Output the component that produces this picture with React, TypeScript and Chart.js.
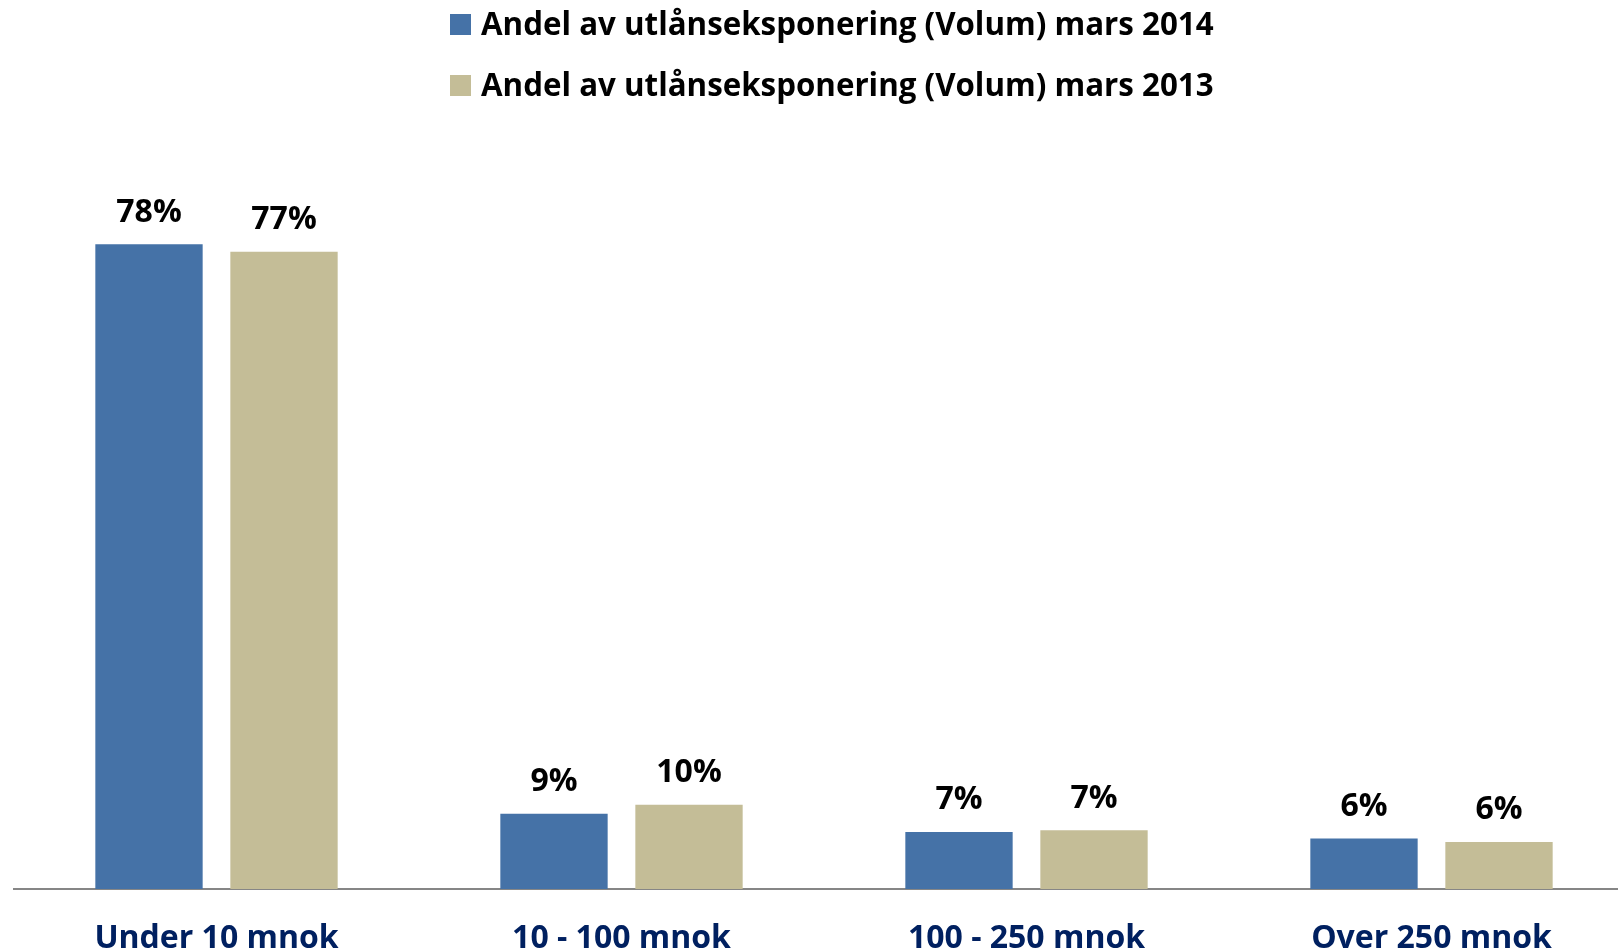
import React, { useEffect, useRef } from "react";
import { Chart, registerables } from "chart.js";

Chart.register(...registerables);

// ---- data ----
const categories = ["Under 10 mnok", "10 - 100 mnok", "100 - 250 mnok", "Over 250 mnok"];
const seriesNames = [
  "Andel av utlånseksponering (Volum) mars 2014",
  "Andel av utlånseksponering (Volum) mars 2013",
];
const values2014 = [78.0, 9.1, 6.9, 6.1];
const values2013 = [77.1, 10.2, 7.1, 5.7];
const yMin = 0;
const yMax = 100;

// ---- style ----
const COLORS = ["#4572A7", "#C4BD97"];
const FONT = "'Open Sans', Lato, sans-serif";
const CANVAS_W = 1640;
const CANVAS_H = 990;

const legendPlugin = {
  id: "customLegend",
  afterDraw(chart: any) {
    const ctx = chart.ctx;
    ctx.save();
    chart.data.datasets.forEach((ds: any, i: number) => {
      const top = 14 + i * 61;
      ctx.fillStyle = ds.backgroundColor;
      ctx.fillRect(450, top, 21, 21);
      ctx.fillStyle = "#000000";
      ctx.font = `bold 31.3px ${FONT}`;
      ctx.textAlign = "left";
      ctx.textBaseline = "alphabetic";
      ctx.fillText(ds.label, 481, top + 21);
    });
    ctx.restore();
  },
};

const dataLabelPlugin = {
  id: "barValueLabels",
  afterDatasetsDraw(chart: any) {
    const ctx = chart.ctx;
    ctx.save();
    ctx.fillStyle = "#000000";
    ctx.font = `bold 32px ${FONT}`;
    ctx.textAlign = "center";
    ctx.textBaseline = "alphabetic";
    chart.data.datasets.forEach((ds: any, di: number) => {
      const meta = chart.getDatasetMeta(di);
      meta.data.forEach((bar: any, i: number) => {
        const v = ds.data[i];
        ctx.fillText(`${Math.round(v)}%`, bar.x, bar.y - 22.5);
      });
    });
    ctx.restore();
  },
};

export default function App() {
  const ref = useRef<HTMLCanvasElement | null>(null);

  useEffect(() => {
    if (!ref.current) return;
    const chart = new Chart(ref.current, {
      type: "bar",
      data: {
        labels: categories,
        datasets: [
          {
            label: seriesNames[0],
            data: values2014,
            backgroundColor: COLORS[0],
            categoryPercentage: 0.6667,
            barPercentage: 0.795,
          },
          {
            label: seriesNames[1],
            data: values2013,
            backgroundColor: COLORS[1],
            categoryPercentage: 0.6667,
            barPercentage: 0.795,
          },
        ],
      },
      options: {
        responsive: false,
        animation: false,
        devicePixelRatio: 1,
        layout: { padding: { left: 14, right: 6, top: 62.5, bottom: 0 } },
        plugins: {
          legend: { display: false },
          tooltip: { enabled: false },
        },
        scales: {
          x: {
            grid: { display: false, drawTicks: false },
            border: { display: true, color: "#868686", width: 2 },
            ticks: {
              color: "#002060",
              font: { family: FONT, size: 32, weight: "bold" },
              padding: 31,
              maxRotation: 0,
              autoSkip: false,
            },
            afterFit: (scale: any) => {
              scale.height = 101;
            },
          },
          y: {
            display: false,
            min: yMin,
            max: yMax,
          },
        },
      },
      plugins: [legendPlugin, dataLabelPlugin],
    });
    return () => chart.destroy();
  }, []);

  return (
    <div
      style={{
        position: "fixed",
        left: 0,
        top: 0,
        width: 1618,
        height: 951,
        overflow: "hidden",
        background: "#ffffff",
      }}
    >
      <canvas ref={ref} width={CANVAS_W} height={CANVAS_H} style={{ display: "block" }} />
    </div>
  );
}
